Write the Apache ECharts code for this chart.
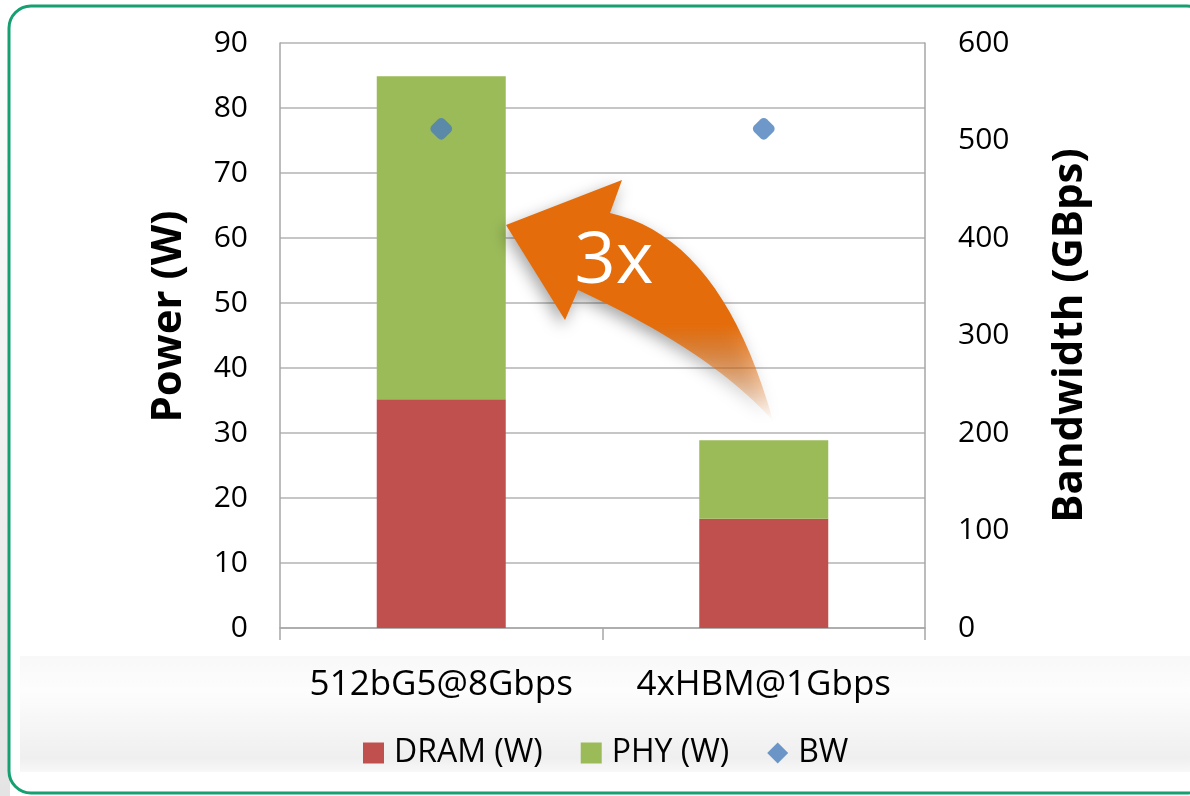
<!DOCTYPE html>
<html>
<head>
<meta charset="utf-8">
<script src="https://cdn.jsdelivr.net/npm/echarts@6/dist/echarts.min.js"></script>
<style>
    html, body { margin: 0; padding: 0; background: #fff; }
    #powerChart { width: 1190px; height: 796px; }
</style>
</head>
<body>
<div id="powerChart"></div>
<script>
var categories = ['512bG5@8Gbps', '4xHBM@1Gbps'];
var dramPower = [35.2, 16.8];
var phyPower = [49.7, 12.1];
var bandwidth = [512, 512];
var powerTicks = [0, 90, 10];
var bwTicks = [0, 600, 100];

var font = 'Open Sans';
var powerChart = echarts.init(document.getElementById('powerChart'));

drawPowerChart();

// sample a quadratic curve into points (for the arrow outline)
function quad(p0, c, p1, n) {
    var pts = [];
    for (var i = 1; i <= n; i++) {
        var t = i / n, u = 1 - t;
        pts.push([u * u * p0[0] + 2 * u * t * c[0] + t * t * p1[0],
                  u * u * p0[1] + 2 * u * t * c[1] + t * t * p1[1]]);
    }
    return pts;
}

function arrowPoints() {
    var pts = [[506, 225], [622, 180], [610, 213]];
    pts = pts.concat(quad([610, 213], [722, 238], [773, 421], 20));
    pts = pts.concat(quad([773, 421], [712, 352], [578, 290], 20));
    pts.push([565, 320]);
    return pts;
}

function drawPowerChart() {
    var option = {
        animation: false,
        textStyle: { fontFamily: font, color: '#000' },
        grid: { left: 280, right: 265, top: 43, bottom: 168 },
        legend: {
            left: 358,
            top: 732,
            itemGap: 38,
            itemWidth: 21,
            itemHeight: 21,
            textStyle: { fontSize: 32, color: '#000', fontFamily: font, padding: [0, 0, 0, 5] },
            data: [
                { name: 'DRAM (W)', icon: 'rect' },
                { name: 'PHY (W)', icon: 'rect' },
                { name: 'BW', icon: 'diamond' }
            ]
        },
        xAxis: {
            type: 'category',
            data: categories,
            axisLine: { lineStyle: { color: '#a6a6a6', width: 1.5 } },
            axisTick: { show: true, length: 12, lineStyle: { color: '#a6a6a6', width: 1.5 } },
            axisLabel: { interval: 0, fontSize: 35, color: '#000', margin: 40, fontFamily: font }
        },
        yAxis: [
            {
                type: 'value',
                min: powerTicks[0],
                max: powerTicks[1],
                interval: powerTicks[2],
                name: 'Power (W)',
                nameLocation: 'middle',
                nameGap: 90,
                nameTextStyle: { fontSize: 42, fontWeight: 'bold', color: '#000', fontFamily: font, padding: [0, 0, 0, 38] },
                axisLine: { show: true, lineStyle: { color: '#a6a6a6', width: 1.5 } },
                axisTick: { show: false },
                axisLabel: { fontSize: 30, color: '#000', margin: 32, fontFamily: font },
                splitLine: { lineStyle: { color: '#b3b3b3', width: 1.5 } }
            },
            {
                type: 'value',
                min: bwTicks[0],
                max: bwTicks[1],
                interval: bwTicks[2],
                name: 'Bandwidth (GBps)',
                nameLocation: 'middle',
                nameGap: 124,
                nameTextStyle: { fontSize: 42, fontWeight: 'bold', color: '#000', fontFamily: font },
                axisLine: { show: true, lineStyle: { color: '#a6a6a6', width: 1.5 } },
                axisTick: { show: false },
                axisLabel: { fontSize: 30, color: '#000', margin: 33, fontFamily: font },
                splitLine: { show: false }
            }
        ],
        series: [
            {
                name: 'DRAM (W)',
                type: 'bar',
                stack: 'power',
                barWidth: '40%',
                itemStyle: { color: '#c0504d' },
                data: dramPower
            },
            {
                name: 'PHY (W)',
                type: 'bar',
                stack: 'power',
                barWidth: '40%',
                itemStyle: { color: '#9bbb59' },
                data: phyPower
            },
            {
                name: 'BW',
                type: 'scatter',
                yAxisIndex: 1,
                symbol: 'roundRect',
                symbolRotate: 45,
                symbolSize: 18,
                itemStyle: { color: '#4a7ebb' },
                z: 5,
                data: bandwidth
            }
        ],
        graphic: [
            // left page strip
            {
                type: 'rect', z: -20, silent: true,
                shape: { x: 0, y: 0, width: 10, height: 796 },
                style: { fill: new echarts.graphic.LinearGradient(0, 0, 0, 1, [
                    { offset: 0, color: '#ffffff' }, { offset: 1, color: '#e4e4e4' }
                ]) }
            },
            // grey band behind the labels
            {
                type: 'rect', z: -15, silent: true,
                shape: { x: 20, y: 656, width: 1180, height: 116 },
                style: { fill: new echarts.graphic.LinearGradient(0, 0, 0, 1, [
                    { offset: 0, color: '#f8f8f8' },
                    { offset: 0.3, color: '#fdfdfd' },
                    { offset: 0.88, color: '#efefef' },
                    { offset: 1, color: '#f8f8f8' }
                ]) }
            },
            // green frame
            {
                type: 'rect', z: -10, silent: true,
                shape: { x: 9, y: 6, width: 1200, height: 787, r: 22 },
                style: { fill: null, stroke: '#14a070', lineWidth: 3 }
            },
            // orange arrow
            {
                type: 'polygon', z: 100, silent: true,
                shape: { points: arrowPoints() },
                style: {
                    fill: new echarts.graphic.LinearGradient(0, 0, 0, 1, [
                        { offset: 0, color: '#e46c0a' },
                        { offset: 0.6, color: '#e46c0a' },
                        { offset: 1, color: 'rgba(228,108,10,0)' }
                    ]),
                    shadowBlur: 16,
                    shadowColor: 'rgba(0,0,0,0.35)',
                    shadowOffsetX: -3,
                    shadowOffsetY: 6
                }
            },
            {
                type: 'text', z: 101, silent: true,
                x: 614, y: 262,
                style: {
                    text: '3x',
                    fill: '#fff',
                    font: '72px "Open Sans"',
                    textAlign: 'center',
                    textVerticalAlign: 'middle'
                }
            }
        ]
    };
    powerChart.setOption(option);
}
</script>
</body>
</html>
